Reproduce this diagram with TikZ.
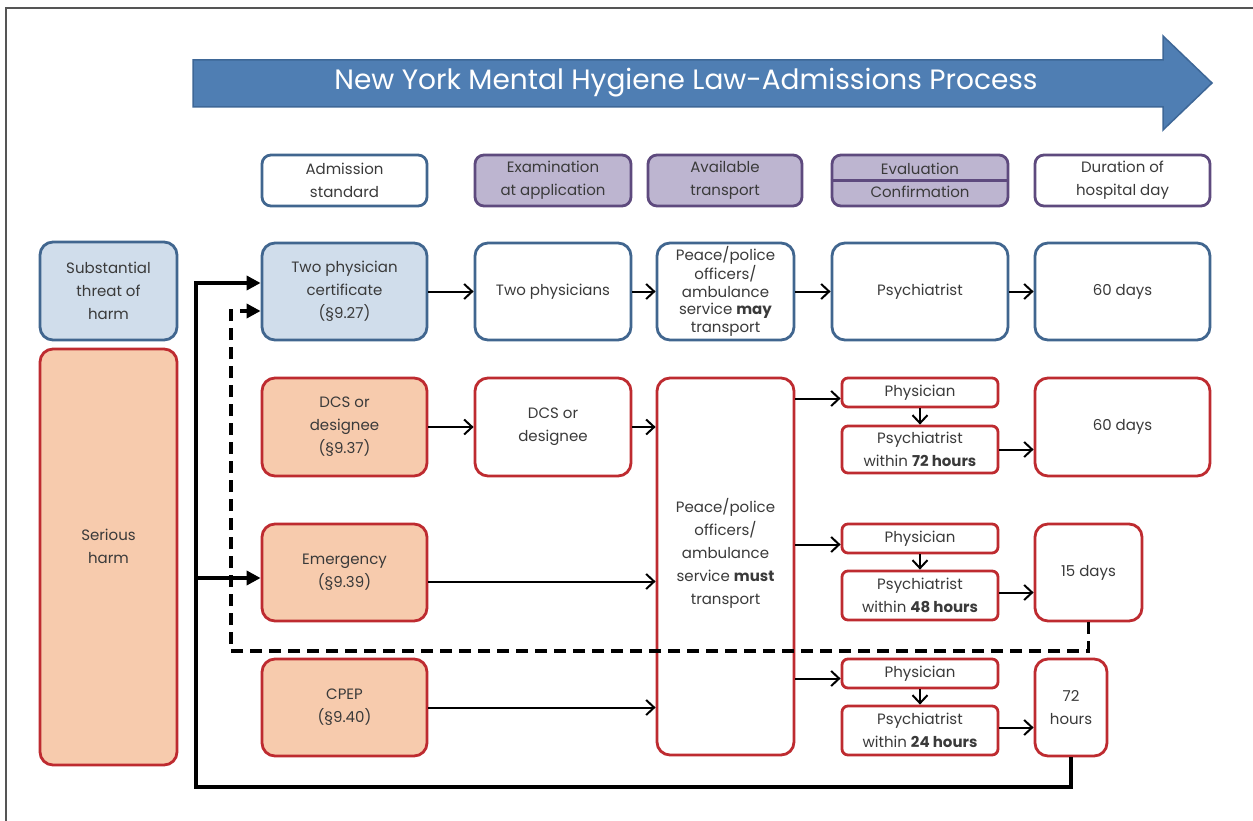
\documentclass[tikz,border=0pt]{standalone}
\usepackage{fontspec}
\setmainfont{Poppins}
\usetikzlibrary{arrows.meta}
\definecolor{bbord}{HTML}{41668F}
\definecolor{bfill}{HTML}{D0DDEB}
\definecolor{rbord}{HTML}{BE2B30}
\definecolor{rfill}{HTML}{F7CBAD}
\definecolor{pbord}{HTML}{5E4A7E}
\definecolor{pfill}{HTML}{BDB5D0}
\definecolor{afill}{HTML}{4F7EB3}
\definecolor{abord}{HTML}{3E6797}
\definecolor{txt}{HTML}{3A3A3A}
\definecolor{frame}{HTML}{555555}
\tikzset{
  base/.style={draw, line width=2.8pt, rounded corners=13pt, align=center, text=txt, inner sep=2pt},
  bluebox/.style={base, draw=bbord, fill=white},
  blueshade/.style={base, draw=bbord, fill=bfill},
  redbox/.style={base, draw=rbord, fill=white},
  redshade/.style={base, draw=rbord, fill=rfill},
  smallred/.style={base, draw=rbord, fill=white, rounded corners=6pt},
  hdr/.style={base, rounded corners=9pt, minimum height=51pt},
  hdrblue/.style={hdr, draw=bbord, fill=white},
  hdrpurple/.style={hdr, draw=pbord, fill=pfill},
  hdrwhite/.style={hdr, draw=pbord, fill=white},
  thinarr/.style={line width=2pt, -{Straight Barb[length=8pt,width=15pt,line width=2pt]}},
  thickarr/.style={line width=3.8pt, -{Triangle[length=14pt,width=14pt]}},
  dasharr/.style={line width=3.8pt, dash pattern=on 12pt off 7pt, -{Triangle[length=14pt,width=14pt]}},
  tight/.style={font=\fontsize{15}{17.5}\selectfont}
}
\begin{document}
\begin{tikzpicture}[x=1pt,y=-1pt,font=\fontsize{15}{23}\selectfont]
\useasboundingbox (0,0) rectangle (1253,821);
\fill[white] (0,0) rectangle (1253,821);
\draw[frame, line width=2pt] (1253,8) -- (6,8) -- (6,821);

% title arrow
\draw[abord, fill=afill, line width=1.5pt] (193,60) -- (1163,60) -- (1163,36) -- (1212,83) -- (1163,130) -- (1163,107) -- (193,107) -- cycle;
\node[text=white, font=\fontsize{28}{32}\selectfont] (title) at (686,83) {New York Mental Hygiene Law-Admissions Process};

% headers
\node[hdrblue, minimum width=165pt] (hA) at (344.5,180.5) {Admission\\standard};
\node[hdrpurple, minimum width=156pt] (hE) at (553,180.5) {Examination\\at application};
\node[hdrpurple, minimum width=154pt] (hT) at (725,180.5) {Available\\transport};
\node[hdrpurple, minimum width=176pt] (hV) at (920,180.5) {Evaluation\\Confirmation};
\draw[pbord, line width=2.5pt] (hV.west) -- (hV.east);
\node[hdrwhite, minimum width=175pt] (hD) at (1122.5,180.5) {Duration of\\hospital day};

% left categories
\node[blueshade, minimum width=137pt, minimum height=98pt] (sub) at (108.5,291) {Substantial\\threat of\\harm};
\node[redshade, minimum width=137pt, minimum height=416pt] (harm) at (108.5,557) {};
\node[text=txt, align=center] (harmtxt) at ([yshift=10.5pt]harm.center) {Serious\\harm};

% row 1
\node[blueshade, minimum width=165pt, minimum height=97pt] (cert) at (344.5,291.5) {Two physician\\certificate\\(§9.27)};
\node[bluebox, minimum width=156pt, minimum height=97pt] (twoP) at (553,291.5) {Two physicians};
\node[bluebox, tight, minimum width=137pt, minimum height=97pt] (peace) at (725.5,291.5) {Peace/police\\officers/\\ambulance\\service \textbf{may}\\transport};
\node[bluebox, minimum width=176pt, minimum height=97pt] (psych) at (920,291.5) {Psychiatrist};
\node[bluebox, minimum width=175pt, minimum height=97pt] (d60a) at (1122.5,291.5) {60 days};

% row 2
\node[redshade, minimum width=165pt, minimum height=98pt] (dcs) at (344.5,427) {DCS or\\designee\\(§9.37)};
\node[redbox, minimum width=156pt, minimum height=98pt] (dcs2) at (553,427) {DCS or\\designee};
\node[redbox, minimum width=137pt, minimum height=377pt] (big) at (725.5,566.5) {};
\node[text=txt, align=center] (bigtxt) at ([yshift=13.5pt]big.center) {Peace/police\\officers/\\ambulance\\service \textbf{must}\\transport};
\node[smallred, minimum width=156pt, minimum height=29pt] (ph1) at (920,392.5) {Physician};
\node[smallred, minimum width=156pt, minimum height=47pt] (ps1) at (920,449.5) {Psychiatrist\\within \textbf{72 hours}};
\node[redbox, minimum width=175pt, minimum height=98pt] (d60b) at (1122.5,427) {60 days};

% row 3
\node[redshade, minimum width=165pt, minimum height=97pt] (emerg) at (344.5,572.5) {Emergency\\(§9.39)};
\node[smallred, minimum width=156pt, minimum height=29pt] (ph2) at (920,538.5) {Physician};
\node[smallred, minimum width=156pt, minimum height=49pt] (ps2) at (920,595.5) {Psychiatrist\\within \textbf{48 hours}};
\node[redbox, minimum width=107pt, minimum height=97pt] (d15) at (1088.5,572.5) {15 days};

% row 4
\node[redshade, minimum width=165pt, minimum height=97pt] (cpep) at (344.5,707.5) {CPEP\\(§9.40)};
\node[smallred, minimum width=156pt, minimum height=29pt] (ph3) at (920,673.5) {Physician};
\node[smallred, minimum width=156pt, minimum height=49pt] (ps3) at (920,730.5) {Psychiatrist\\within \textbf{24 hours}};
\node[redbox, minimum width=72pt, minimum height=97pt] (d72) at (1071,707.5) {72\\hours};

% thin arrows row 1
\draw[thinarr] (cert.east) -- (twoP.west);
\draw[thinarr] (twoP.east) -- (peace.west);
\draw[thinarr] (peace.east) -- (psych.west);
\draw[thinarr] (psych.east) -- (d60a.west);
% row 2
\draw[thinarr] (dcs.east) -- (dcs2.west);
\draw[thinarr] (dcs2.east) -- (dcs2.east -| big.west);
\draw[thinarr] ([yshift=-6pt]ph1.west -| big.east) -- ([yshift=-6pt]ph1.west);
\draw[thinarr] (ph1.south) -- (ps1.north);
\draw[thinarr] (ps1.east) -- (ps1.east -| d60b.west);
% row 3
\draw[thinarr] ([yshift=-9pt]emerg.east) -- ([yshift=-9pt]emerg.east -| big.west);
\draw[thinarr] ([yshift=-6pt]ph2.west -| big.east) -- ([yshift=-6pt]ph2.west);
\draw[thinarr] (ph2.south) -- (ps2.north);
\draw[thinarr] ([yshift=3pt]ps2.east) -- ([yshift=3pt]ps2.east -| d15.west);
% row 4
\draw[thinarr] (cpep.east) -- (cpep.east -| big.west);
\draw[thinarr] ([yshift=-5pt]ph3.west -| big.east) -- ([yshift=-5pt]ph3.west);
\draw[thinarr] (ph3.south) -- (ps3.north);
\draw[thinarr] ([yshift=3pt]ps3.east) -- ([yshift=3pt]ps3.east -| d72.west);

% thick loop
\coordinate (cbl) at (196,787);
\coordinate (ctl) at (196,283);
\coordinate (cem) at (196,578);
\draw[thickarr] (d72.south) |- (cbl) -- (ctl) -- (ctl -| cert.west);
\draw[thickarr] (cem) -- (cem -| emerg.west);

% dashed loop
\coordinate (dbl) at (231,651);
\coordinate (dtl) at (231,311);
\draw[dasharr] (d15.south) |- (dbl) -- (dtl) -- (dtl -| cert.west);
\end{tikzpicture}
\end{document}
